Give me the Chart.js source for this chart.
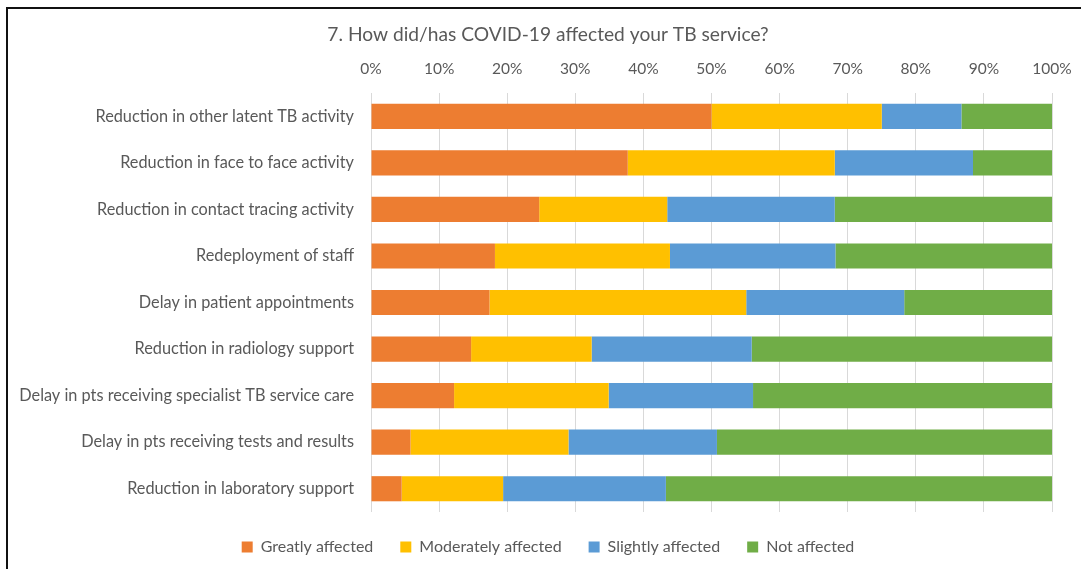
<!DOCTYPE html>
<html>
<head>
<meta charset="utf-8">
<title>How did/has COVID-19 affected your TB service?</title>
<script src="https://cdn.jsdelivr.net/npm/chart.js@4/dist/chart.umd.min.js"></script>
<style>
  html, body { margin: 0; padding: 0; background: #fff; overflow: hidden; }
  #wrap { position: relative; width: 1081px; height: 569px; }
  #frame {
    position: absolute; left: 6px; top: 7px; width: 1200px; height: 700px;
    border-left: 2px solid #111; border-top: 2px solid #111;
  }
  canvas { position: absolute; left: 0; top: 0; }
</style>
</head>
<body>
<div id="wrap">
  <div id="frame"></div>
  <canvas id="chart" width="1081" height="569"></canvas>
</div>
<script>
// Categories (top to bottom)
const categories = [
  'Reduction in other latent TB activity',
  'Reduction in face to face activity',
  'Reduction in contact tracing activity',
  'Redeployment of staff',
  'Delay in patient appointments',
  'Reduction in radiology support',
  'Delay in pts receiving specialist TB service care',
  'Delay in pts receiving tests and results',
  'Reduction in laboratory support'
];

// Share of responses (%)
const greatlyAffected    = [50.0, 37.7, 24.7, 18.2, 17.4, 14.7, 12.2, 5.8, 4.5];
const moderatelyAffected = [25.0, 30.4, 18.8, 25.7, 37.7, 17.7, 22.7, 23.2, 14.9];
const slightlyAffected   = [11.7, 20.3, 24.6, 24.3, 23.2, 23.5, 21.2, 21.8, 23.9];
const notAffected        = [13.3, 11.6, 31.9, 31.8, 21.7, 44.1, 43.9, 49.2, 56.7];

const seriesNames = ['Greatly affected', 'Moderately affected', 'Slightly affected', 'Not affected'];
const seriesColors = ['#ED7D31', '#FFC000', '#5B9BD5', '#70AD47'];

const textColor = '#595959';
const fontFamily = 'Lato, "Open Sans", sans-serif';

// title and legend are centred a bit right of the canvas centre in the original
const centreShift = {
  id: 'centreShift',
  beforeDraw(chart) {
    if (chart.titleBlock) chart.titleBlock.left = 44;
    if (chart.legend) chart.legend.left = 44;
  }
};

const ctx = document.getElementById('chart').getContext('2d');

const datasets = [greatlyAffected, moderatelyAffected, slightlyAffected, notAffected].map((values, i) => ({
  label: seriesNames[i],
  data: values,
  backgroundColor: seriesColors[i],
  borderWidth: 0,
  barPercentage: 0.54,
  categoryPercentage: 1.0
}));

new Chart(ctx, {
  type: 'bar',
  data: { labels: categories, datasets: datasets },
  plugins: [centreShift],
  options: {
    indexAxis: 'y',
    responsive: false,
    animation: false,
    layout: { padding: { left: 0, right: 29, top: 0, bottom: 4 } },
    scales: {
      x: {
        position: 'top',
        stacked: true,
        min: 0,
        max: 100,
        border: { display: false },
        grid: { color: '#d9d9d9', lineWidth: 1, drawTicks: false },
        ticks: {
          stepSize: 10,
          padding: 15,
          color: textColor,
          font: { family: fontFamily, size: 15.5 },
          callback: (v) => v + '%'
        },
        afterFit: (scale) => {
          scale.height = 37;
          scale.paddingLeft = 0;
          scale.paddingRight = 0;
        }
      },
      y: {
        stacked: true,
        border: { display: false },
        grid: { display: false, drawTicks: false },
        ticks: {
          padding: 17,
          color: textColor,
          font: { family: fontFamily, size: 16.3 }
        },
        afterFit: (scale) => { scale.width = 371; }
      }
    },
    plugins: {
      title: {
        display: true,
        text: '7. How did/has COVID-19 affected your TB service?',
        color: textColor,
        font: { family: fontFamily, size: 19.2, weight: 'normal' },
        padding: { top: 23, bottom: 10 }
      },
      legend: {
        position: 'bottom',
        labels: {
          color: textColor,
          font: { family: fontFamily, size: 16 },
          boxWidth: 11,
          boxHeight: 11,
          padding: 27
        }
      },
      tooltip: { enabled: false }
    }
  }
});
</script>
</body>
</html>
